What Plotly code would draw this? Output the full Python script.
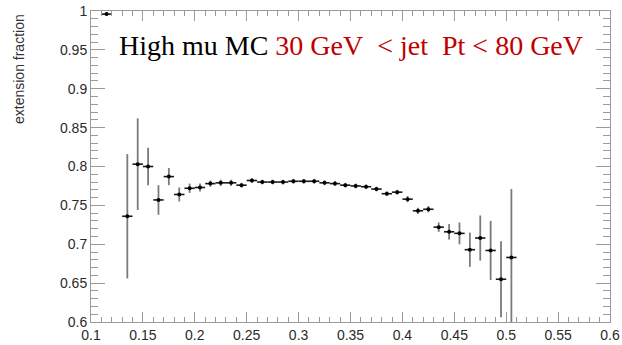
import plotly.graph_objects as go

# Bin centres (jet property, 0.01 wide bins) and measured extension fraction
bin_centers = [0.115, 0.135, 0.145, 0.155, 0.165, 0.175, 0.185, 0.195, 0.205,
               0.215, 0.225, 0.235, 0.245, 0.255, 0.265, 0.275, 0.285, 0.295,
               0.305, 0.315, 0.325, 0.335, 0.345, 0.355, 0.365, 0.375, 0.385,
               0.395, 0.405, 0.415, 0.425, 0.435, 0.445, 0.455, 0.465, 0.475,
               0.485, 0.495, 0.505]
fraction = [0.996, 0.736, 0.803, 0.800, 0.757, 0.787, 0.764, 0.772, 0.773,
            0.778, 0.779, 0.779, 0.776, 0.782, 0.780, 0.780, 0.780, 0.781,
            0.781, 0.781, 0.779, 0.778, 0.776, 0.775, 0.774, 0.771, 0.765,
            0.767, 0.758, 0.743, 0.745, 0.722, 0.716, 0.714, 0.693, 0.708,
            0.692, 0.655, 0.683]
fraction_err = [0.002, 0.080, 0.059, 0.024, 0.019, 0.011, 0.009, 0.006, 0.005,
                0.004, 0.004, 0.004, 0.003, 0.003, 0.003, 0.003, 0.003, 0.003,
                0.003, 0.003, 0.003, 0.003, 0.003, 0.003, 0.003, 0.003, 0.003,
                0.003, 0.004, 0.004, 0.004, 0.006, 0.010, 0.014, 0.022, 0.029,
                0.038, 0.049, 0.088]
bin_half_width = 0.005

x_ticks = [0.1, 0.15, 0.2, 0.25, 0.3, 0.35, 0.4, 0.45, 0.5, 0.55, 0.6]
y_ticks = [0.6, 0.65, 0.7, 0.75, 0.8, 0.85, 0.9, 0.95, 1.0]

W, H = 622, 345
L, R, T, B = 91, 12, 11, 23

fig = go.Figure()
fig.add_trace(go.Scatter(
    x=bin_centers, y=fraction, mode="markers",
    marker=dict(color="black", size=4),
    error_x=dict(type="constant", value=bin_half_width, width=0,
                 color="#1a1a1a", thickness=1.6),
    error_y=dict(type="data", array=fraction_err, width=0,
                 color="#7a7a7a", thickness=1.8),
    showlegend=False,
))

tick_font = dict(family="Liberation Sans, Arial, sans-serif", size=14, color="#2a2a2a")
frame_col = "#9a9a9a"

fig.update_xaxes(
    range=[0.1, 0.6], tickvals=x_ticks, ticktext=[f"{v:g}" for v in x_ticks],
    ticks="inside", ticklen=10, tickwidth=1, tickcolor=frame_col,
    minor=dict(dtick=0.01, tick0=0.1, ticks="inside", ticklen=5,
               tickcolor=frame_col, showgrid=False),
    showline=True, linecolor=frame_col, linewidth=1, mirror="allticks",
    showgrid=False, zeroline=False, tickfont=tick_font, automargin=False,
)
fig.update_yaxes(
    range=[0.6, 1.0], tickvals=y_ticks, ticktext=[f"{v:g}" for v in y_ticks],
    ticks="inside", ticklen=14, tickwidth=1, tickcolor=frame_col,
    minor=dict(dtick=0.01, tick0=0.6, ticks="inside", ticklen=7,
               tickcolor=frame_col, showgrid=False),
    showline=True, linecolor=frame_col, linewidth=1, mirror="allticks",
    showgrid=False, zeroline=False, tickfont=tick_font, automargin=False,
)

pw, ph = W - L - R, H - T - B

# Y axis title, aligned to the top end of the axis
fig.add_annotation(
    text="extension fraction", textangle=-90,
    xref="paper", yref="paper", x=(19 - L) / pw, y=(H - B - 12) / ph,
    xanchor="center", yanchor="top", showarrow=False,
    font=dict(family="Liberation Sans, Arial, sans-serif", size=14, color="#333333"),
)

# Sample and jet selection label
fig.add_annotation(
    text=("High\u00a0mu\u00a0MC "
          "<span style='color:#c00000'>30\u00a0GeV\u00a0\u00a0&lt;\u00a0jet\u00a0\u00a0Pt\u00a0&lt;\u00a080\u00a0GeV</span>"),
    xref="paper", yref="paper", x=(117 - L) / pw, y=(H - B - 46) / ph,
    xanchor="left", yanchor="middle", showarrow=False,
    font=dict(family="Liberation Serif, Times New Roman, serif", size=28, color="black"),
)

fig.update_layout(
    width=W, height=H, margin=dict(l=L, r=R, t=T, b=B),
    paper_bgcolor="white", plot_bgcolor="white",
)

fig.write_html("out.html")
